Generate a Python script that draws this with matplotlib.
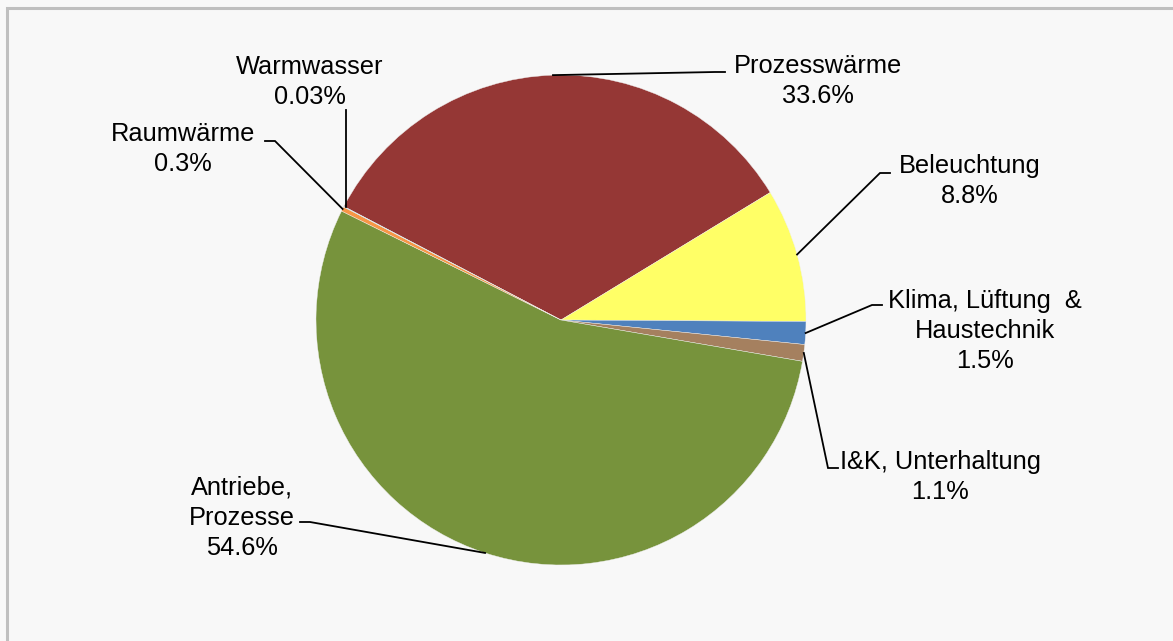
import numpy as np
import matplotlib.pyplot as plt
import matplotlib as mpl

mpl.rcParams['font.family'] = ['Liberation Sans', 'DejaVu Sans']

# data, clockwise from the top-left edge of Prozesswärme
labels = ['Prozesswärme', 'Beleuchtung', 'Klima, Lüftung  &\nHaustechnik',
          'I&K, Unterhaltung', 'Antriebe,\nProzesse', 'Raumwärme', 'Warmwasser']
shares = [33.6, 8.8, 1.5, 1.1, 54.6, 0.3, 0.03]
pct_text = ['33.6%', '8.8%', '1.5%', '1.1%', '54.6%', '0.3%', '0.03%']
colors = ['#953735', '#FFFF66', '#4F81BD', '#A5805F', '#77933C', '#F79646', '#4BACC6']

W, H = 1173, 641
CX, CY, R = 561, 320, 245

# label layout in pixel coords (y down): text centre, elbow, end of horizontal stub
text_pos = [(818, 81), (970, 181), (985, 331), (940, 477), (242, 518), (183, 149), (310, 82)]
elbow = [(715, 72), (880, 173), (872, 305), (828, 468), (310, 522), (275, 141), (346, 110)]
stub = [(725, 72), (890, 173), (882, 305), (838, 468), (300, 522), (265, 141), (346, 110)]


def py(y):
    return H - y


fig = plt.figure(figsize=(W / 100, H / 100), dpi=100)
fig.patch.set_facecolor('#F8F8F8')
ax = fig.add_axes([0, 0, 1, 1])
ax.set_facecolor('#F8F8F8')

start = 152.4
wedges, _ = ax.pie(shares, colors=colors, startangle=start, counterclock=False,
                   center=(CX, py(CY)), radius=R, frame=True,
                   wedgeprops=dict(linewidth=0.3, edgecolor='#F0F0F0'))

for i, w in enumerate(wedges):
    mid = np.deg2rad((w.theta1 + w.theta2) / 2)
    ax0 = CX + R * np.cos(mid)
    ay0 = py(CY) + R * np.sin(mid)
    ex, ey = elbow[i]
    sx, sy = stub[i]
    if i == len(wedges) - 1:
        ax0 = ex  # Warmwasser leader is drawn straight up
    ax.plot([ax0, ex, sx], [ay0, py(ey), py(sy)], color='black', lw=1.3,
            solid_joinstyle='miter', zorder=5)
    tx, ty = text_pos[i]
    ax.text(tx, py(ty), labels[i] + '\n' + pct_text[i], ha='center', va='center',
            fontsize=18.3, linespacing=1.33, color='black')

ax.set_xlim(0, W)
ax.set_ylim(0, H)
ax.set_aspect('auto')
ax.axis('off')

# chart frame (only top and left edges fall inside the picture)
ax.plot([7, 7, W + 5], [-5, py(7.5), py(7.5)], color='#BFBFBF', lw=2.2,
        solid_joinstyle='miter', clip_on=False)

fig.savefig('out.png', dpi=100, facecolor=fig.get_facecolor())
